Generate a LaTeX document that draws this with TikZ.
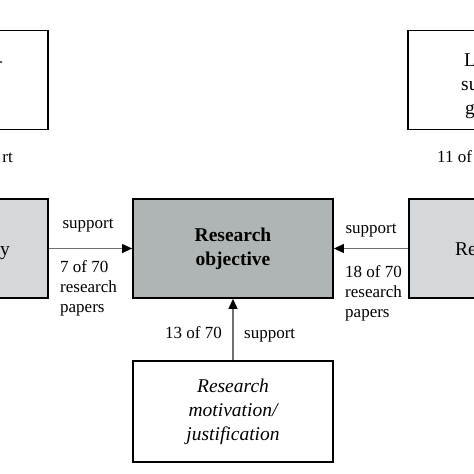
\documentclass[tikz,border=0pt]{standalone}
\usepackage{fontspec}
\setmainfont{Liberation Serif}
\usetikzlibrary{arrows.meta}
\definecolor{cgray}{HTML}{AFB4B4}
\definecolor{sgray}{HTML}{D5D8DA}
\definecolor{lgray}{HTML}{707070}
\tikzset{
  box/.style={draw=black, line width=1.8pt, minimum width=200pt, minimum height=99pt, inner sep=0pt, align=center, font=\fontsize{19.5}{24}\selectfont},
  lab/.style={inner sep=0pt, font=\fontsize{17}{20}\selectfont, align=left},
  arr/.style={draw=lgray, line width=1.1pt, -{Triangle[length=10pt,width=9pt,color=black]}}
}
\begin{document}
\begin{tikzpicture}[x=1pt,y=-1pt]
\useasboundingbox (0,0) rectangle (474,474);
\clip (0,0) rectangle (474,474);
\fill[white] (0,0) rectangle (474,474);
% boxes
\node[box] (TL) at (-52,80) {};
\node[box] (TR) at (508,80) {};
\node[box, fill=sgray] (L) at (-52,248.5) {};
\node[box, fill=sgray] (R) at (509,248.5) {};
\node[box, fill=cgray, font=\bfseries\fontsize{19.5}{24}\selectfont] (C) at (233,248.5) {Research\\objective};
\node[box, minimum height=101pt, font=\itshape\fontsize{19.5}{24}\selectfont] (B) at (233,411.5) {Research\\motivation/\\justification};
% partial texts of cut boxes
\node[lab, anchor=base east] (tlt) at (3,66) {-};
\node[lab, anchor=base west, font=\fontsize{19.5}{24}\selectfont] (trt1) at (464,66) {L};
\node[lab, anchor=base west, font=\fontsize{19.5}{24}\selectfont] (trt2) at (461,90) {su};
\node[lab, anchor=base west, font=\fontsize{19.5}{24}\selectfont] (trt3) at (465,114) {g};
\node[lab, anchor=base east, font=\fontsize{19.5}{24}\selectfont] (lt) at (10,255) {y};
\node[lab, anchor=base west, font=\fontsize{19.5}{24}\selectfont] (rt) at (455,255) {Re};
\node[lab, anchor=base east] (tl) at (13,162) {rt};
\node[lab, anchor=base west] (tr) at (437,162) {11 of};
% arrows
\draw[arr] (L.east) -- (C.west);
\draw[arr] (R.west) -- (C.east);
\draw[arr] (B.north) -- (C.south);
% labels
\node[lab, anchor=base] (l1) at (88,228) {support};
\node[lab, anchor=north west] (l2) at (60,260.5) {7 of 70\\research\\papers};
\node[lab, anchor=base] (r1) at (371,233) {support};
\node[lab, anchor=north west] (r2) at (345,265.5) {18 of 70\\research\\papers};
\node[lab, anchor=base east] (b1) at (222,338) {13 of 70};
\node[lab, anchor=base west] (b2) at (244,338) {support};
\end{tikzpicture}
\end{document}
